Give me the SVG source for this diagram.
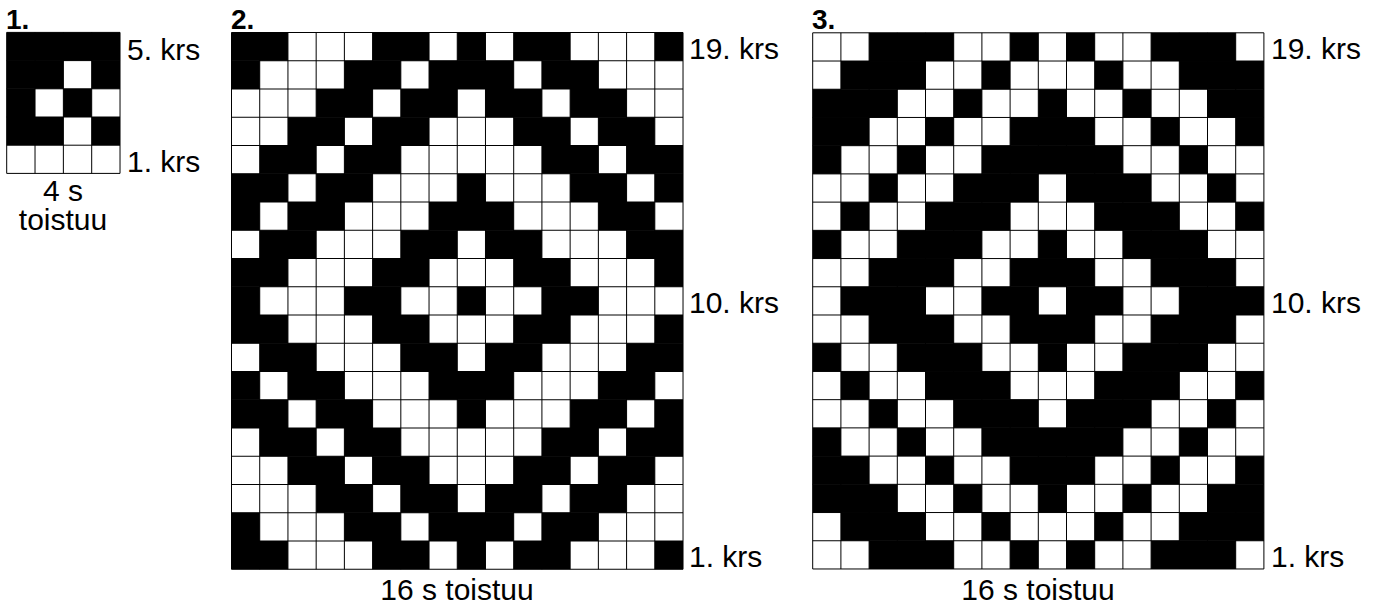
<svg xmlns="http://www.w3.org/2000/svg" xmlns:xlink="http://www.w3.org/1999/xlink" width="1386" height="607" viewBox="0 0 1386 607">
<style>
.t{font-family:"Liberation Sans",Arial,sans-serif;font-size:30px;fill:#000}
.h{font-weight:bold;font-size:28px}
.m{text-anchor:middle}
.b{fill:#000}
.g{fill:none;stroke:#000;stroke-width:1;vector-effect:non-scaling-stroke}
</style>
<defs>
<!-- chart 1 rows -->
<g id="a0" class="b"><rect x="0" width="4" height="1"/></g>
<g id="a1" class="b"><rect x="0" width="2" height="1"/><rect x="3" width="1" height="1"/></g>
<g id="a2" class="b"><rect x="0" width="1" height="1"/><rect x="2" width="1" height="1"/></g>
<!-- chart 2 rows -->
<g id="p0" class="b"><rect x="0" width="2" height="1"/><rect x="5" width="2" height="1"/><rect x="8" width="1" height="1"/><rect x="10" width="2" height="1"/><rect x="15" width="1" height="1"/></g>
<g id="p1" class="b"><rect x="0" width="1" height="1"/><rect x="4" width="2" height="1"/><rect x="7" width="3" height="1"/><rect x="11" width="2" height="1"/></g>
<g id="p2" class="b"><rect x="3" width="2" height="1"/><rect x="6" width="2" height="1"/><rect x="9" width="2" height="1"/><rect x="12" width="2" height="1"/></g>
<g id="p3" class="b"><rect x="2" width="2" height="1"/><rect x="5" width="2" height="1"/><rect x="10" width="2" height="1"/><rect x="13" width="2" height="1"/></g>
<g id="p4" class="b"><rect x="1" width="2" height="1"/><rect x="4" width="2" height="1"/><rect x="11" width="2" height="1"/><rect x="14" width="2" height="1"/></g>
<g id="p5" class="b"><rect x="0" width="2" height="1"/><rect x="3" width="2" height="1"/><rect x="8" width="1" height="1"/><rect x="12" width="2" height="1"/><rect x="15" width="1" height="1"/></g>
<g id="p6" class="b"><rect x="0" width="1" height="1"/><rect x="2" width="2" height="1"/><rect x="7" width="3" height="1"/><rect x="13" width="2" height="1"/></g>
<g id="p7" class="b"><rect x="1" width="2" height="1"/><rect x="6" width="2" height="1"/><rect x="9" width="2" height="1"/><rect x="14" width="2" height="1"/></g>
<g id="p8" class="b"><rect x="0" width="2" height="1"/><rect x="5" width="2" height="1"/><rect x="10" width="2" height="1"/><rect x="15" width="1" height="1"/></g>
<g id="p9" class="b"><rect x="0" width="1" height="1"/><rect x="4" width="2" height="1"/><rect x="8" width="1" height="1"/><rect x="11" width="2" height="1"/></g>
<!-- chart 3 rows -->
<g id="q0" class="b"><rect x="2" width="3" height="1"/><rect x="7" width="1" height="1"/><rect x="9" width="1" height="1"/><rect x="12" width="3" height="1"/></g>
<g id="q1" class="b"><rect x="1" width="3" height="1"/><rect x="6" width="1" height="1"/><rect x="10" width="1" height="1"/><rect x="13" width="3" height="1"/></g>
<g id="q2" class="b"><rect x="0" width="3" height="1"/><rect x="5" width="1" height="1"/><rect x="8" width="1" height="1"/><rect x="11" width="1" height="1"/><rect x="14" width="2" height="1"/></g>
<g id="q3" class="b"><rect x="0" width="2" height="1"/><rect x="4" width="1" height="1"/><rect x="7" width="3" height="1"/><rect x="12" width="1" height="1"/><rect x="15" width="1" height="1"/></g>
<g id="q4" class="b"><rect x="0" width="1" height="1"/><rect x="3" width="1" height="1"/><rect x="6" width="5" height="1"/><rect x="13" width="1" height="1"/></g>
<g id="q5" class="b"><rect x="2" width="1" height="1"/><rect x="5" width="3" height="1"/><rect x="9" width="3" height="1"/><rect x="14" width="1" height="1"/></g>
<g id="q6" class="b"><rect x="1" width="1" height="1"/><rect x="4" width="3" height="1"/><rect x="10" width="3" height="1"/><rect x="15" width="1" height="1"/></g>
<g id="q7" class="b"><rect x="0" width="1" height="1"/><rect x="3" width="3" height="1"/><rect x="8" width="1" height="1"/><rect x="11" width="3" height="1"/></g>
<g id="q8" class="b"><rect x="2" width="3" height="1"/><rect x="7" width="3" height="1"/><rect x="12" width="3" height="1"/></g>
<g id="q9" class="b"><rect x="1" width="3" height="1"/><rect x="6" width="2" height="1"/><rect x="9" width="2" height="1"/><rect x="13" width="3" height="1"/></g>
<path id="grid16" class="g" d="M0 0V19M1 0V19M2 0V19M3 0V19M4 0V19M5 0V19M6 0V19M7 0V19M8 0V19M9 0V19M10 0V19M11 0V19M12 0V19M13 0V19M14 0V19M15 0V19M16 0V19M0 0H16M0 1H16M0 2H16M0 3H16M0 4H16M0 5H16M0 6H16M0 7H16M0 8H16M0 9H16M0 10H16M0 11H16M0 12H16M0 13H16M0 14H16M0 15H16M0 16H16M0 17H16M0 18H16M0 19H16"/>
</defs>
<rect width="1386" height="607" fill="#fff"/>

<g id="chart1">
<text class="t h" x="6" y="28.5">1.</text>
<g transform="translate(6.7,32.4) scale(28.33,28.2)">
<use xlink:href="#a0" y="0"/>
<use xlink:href="#a1" y="1"/>
<use xlink:href="#a2" y="2"/>
<use xlink:href="#a1" y="3"/>
<path class="g" d="M0 0V5M1 0V5M2 0V5M3 0V5M4 0V5M0 0H4M0 1H4M0 2H4M0 3H4M0 4H4M0 5H4"/>
</g>
<text class="t" x="127" y="60">5. krs</text>
<text class="t" x="127" y="172">1. krs</text>
<text class="t m" x="63" y="201">4 s</text>
<text class="t m" x="63" y="230">toistuu</text>
</g>

<g id="chart2">
<text class="t h" x="231" y="28.5">2.</text>
<g transform="translate(231.5,32.5) scale(28.22,28.25)">
<use xlink:href="#p0" y="0"/>
<use xlink:href="#p1" y="1"/>
<use xlink:href="#p2" y="2"/>
<use xlink:href="#p3" y="3"/>
<use xlink:href="#p4" y="4"/>
<use xlink:href="#p5" y="5"/>
<use xlink:href="#p6" y="6"/>
<use xlink:href="#p7" y="7"/>
<use xlink:href="#p8" y="8"/>
<use xlink:href="#p9" y="9"/>
<use xlink:href="#p8" y="10"/>
<use xlink:href="#p7" y="11"/>
<use xlink:href="#p6" y="12"/>
<use xlink:href="#p5" y="13"/>
<use xlink:href="#p4" y="14"/>
<use xlink:href="#p3" y="15"/>
<use xlink:href="#p2" y="16"/>
<use xlink:href="#p1" y="17"/>
<use xlink:href="#p0" y="18"/>
<use xlink:href="#grid16"/>
</g>
<text class="t" x="689" y="59">19. krs</text>
<text class="t" x="689" y="313">10. krs</text>
<text class="t" x="689" y="567">1. krs</text>
<text class="t m" x="457" y="600">16 s toistuu</text>
</g>

<g id="chart3">
<text class="t h" x="812" y="28.5">3.</text>
<g transform="translate(812.7,32.8) scale(28.2,28.22)">
<use xlink:href="#q0" y="0"/>
<use xlink:href="#q1" y="1"/>
<use xlink:href="#q2" y="2"/>
<use xlink:href="#q3" y="3"/>
<use xlink:href="#q4" y="4"/>
<use xlink:href="#q5" y="5"/>
<use xlink:href="#q6" y="6"/>
<use xlink:href="#q7" y="7"/>
<use xlink:href="#q8" y="8"/>
<use xlink:href="#q9" y="9"/>
<use xlink:href="#q8" y="10"/>
<use xlink:href="#q7" y="11"/>
<use xlink:href="#q6" y="12"/>
<use xlink:href="#q5" y="13"/>
<use xlink:href="#q4" y="14"/>
<use xlink:href="#q3" y="15"/>
<use xlink:href="#q2" y="16"/>
<use xlink:href="#q1" y="17"/>
<use xlink:href="#q0" y="18"/>
<use xlink:href="#grid16"/>
</g>
<text class="t" x="1271" y="59">19. krs</text>
<text class="t" x="1271" y="313">10. krs</text>
<text class="t" x="1271" y="567">1. krs</text>
<text class="t m" x="1038" y="600">16 s toistuu</text>
</g>
</svg>
